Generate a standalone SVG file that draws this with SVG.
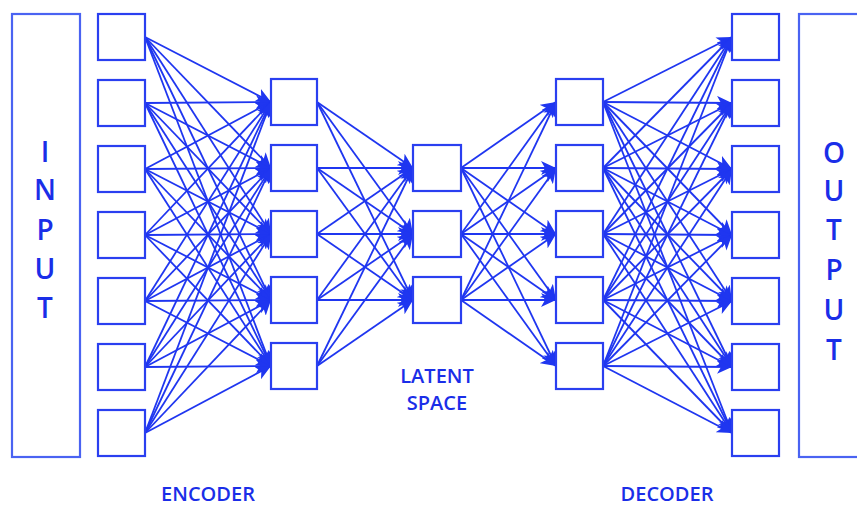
<svg xmlns="http://www.w3.org/2000/svg" width="857" height="507" viewBox="0 0 857 507">
<style>
.box{fill:#fff;stroke:#2a3ff0;stroke-width:2.2}
.big{fill:#fff;stroke:#4a63f2;stroke-width:2.2}
.c line{stroke:#1f36f0;stroke-width:1.8;marker-end:url(#ah)}
.t{font-family:"Open Sans","Liberation Sans",sans-serif;fill:#1a2ee8;text-anchor:middle;font-weight:600}
.v{font-size:28px}
.l{font-size:20px}
</style>
<defs>
<marker id="ah" markerUnits="userSpaceOnUse" markerWidth="16" markerHeight="14" refX="15" refY="7" orient="auto">
<path d="M0,0 L15,7 L0,14 L4,7 z" fill="#1f36f0"/>
</marker>
</defs>
<rect width="857" height="507" fill="#fff"/>
<g id="input"><rect class="big" x="12" y="14" width="68" height="443"/>
<text class="t v" x="45" y="162">I</text><text class="t v" x="45" y="200">N</text><text class="t v" x="45" y="240">P</text><text class="t v" x="45" y="279">U</text><text class="t v" x="45" y="318">T</text></g>
<g id="output"><rect class="big" x="799" y="14" width="70" height="443"/>
<text class="t v" x="834" y="163">O</text><text class="t v" x="834" y="201">U</text><text class="t v" x="834" y="240">T</text><text class="t v" x="834" y="280">P</text><text class="t v" x="834" y="320">U</text><text class="t v" x="834" y="360">T</text></g>
<g class="c" id="connectors">
<line x1="145" y1="37" x2="271" y2="102"/><line x1="145" y1="37" x2="271" y2="168"/><line x1="145" y1="37" x2="271" y2="234"/><line x1="145" y1="37" x2="271" y2="300"/><line x1="145" y1="37" x2="271" y2="366"/>
<line x1="145" y1="103" x2="271" y2="102"/><line x1="145" y1="103" x2="271" y2="168"/><line x1="145" y1="103" x2="271" y2="234"/><line x1="145" y1="103" x2="271" y2="300"/><line x1="145" y1="103" x2="271" y2="366"/>
<line x1="145" y1="169" x2="271" y2="102"/><line x1="145" y1="169" x2="271" y2="168"/><line x1="145" y1="169" x2="271" y2="234"/><line x1="145" y1="169" x2="271" y2="300"/><line x1="145" y1="169" x2="271" y2="366"/>
<line x1="145" y1="235" x2="271" y2="102"/><line x1="145" y1="235" x2="271" y2="168"/><line x1="145" y1="235" x2="271" y2="234"/><line x1="145" y1="235" x2="271" y2="300"/><line x1="145" y1="235" x2="271" y2="366"/>
<line x1="145" y1="301" x2="271" y2="102"/><line x1="145" y1="301" x2="271" y2="168"/><line x1="145" y1="301" x2="271" y2="234"/><line x1="145" y1="301" x2="271" y2="300"/><line x1="145" y1="301" x2="271" y2="366"/>
<line x1="145" y1="367" x2="271" y2="102"/><line x1="145" y1="367" x2="271" y2="168"/><line x1="145" y1="367" x2="271" y2="234"/><line x1="145" y1="367" x2="271" y2="300"/><line x1="145" y1="367" x2="271" y2="366"/>
<line x1="145" y1="433" x2="271" y2="102"/><line x1="145" y1="433" x2="271" y2="168"/><line x1="145" y1="433" x2="271" y2="234"/><line x1="145" y1="433" x2="271" y2="300"/><line x1="145" y1="433" x2="271" y2="366"/>
<line x1="317" y1="102" x2="413" y2="168"/><line x1="317" y1="102" x2="413" y2="234"/><line x1="317" y1="102" x2="413" y2="300"/>
<line x1="317" y1="168" x2="413" y2="168"/><line x1="317" y1="168" x2="413" y2="234"/><line x1="317" y1="168" x2="413" y2="300"/>
<line x1="317" y1="234" x2="413" y2="168"/><line x1="317" y1="234" x2="413" y2="234"/><line x1="317" y1="234" x2="413" y2="300"/>
<line x1="317" y1="300" x2="413" y2="168"/><line x1="317" y1="300" x2="413" y2="234"/><line x1="317" y1="300" x2="413" y2="300"/>
<line x1="317" y1="366" x2="413" y2="168"/><line x1="317" y1="366" x2="413" y2="234"/><line x1="317" y1="366" x2="413" y2="300"/>
<line x1="461" y1="168" x2="556" y2="102"/><line x1="461" y1="168" x2="556" y2="168"/><line x1="461" y1="168" x2="556" y2="234"/><line x1="461" y1="168" x2="556" y2="300"/><line x1="461" y1="168" x2="556" y2="366"/>
<line x1="461" y1="234" x2="556" y2="102"/><line x1="461" y1="234" x2="556" y2="168"/><line x1="461" y1="234" x2="556" y2="234"/><line x1="461" y1="234" x2="556" y2="300"/><line x1="461" y1="234" x2="556" y2="366"/>
<line x1="461" y1="300" x2="556" y2="102"/><line x1="461" y1="300" x2="556" y2="168"/><line x1="461" y1="300" x2="556" y2="234"/><line x1="461" y1="300" x2="556" y2="300"/><line x1="461" y1="300" x2="556" y2="366"/>
<line x1="603" y1="102" x2="732" y2="37"/><line x1="603" y1="102" x2="732" y2="103"/><line x1="603" y1="102" x2="732" y2="169"/><line x1="603" y1="102" x2="732" y2="235"/><line x1="603" y1="102" x2="732" y2="301"/><line x1="603" y1="102" x2="732" y2="367"/><line x1="603" y1="102" x2="732" y2="433"/>
<line x1="603" y1="168" x2="732" y2="37"/><line x1="603" y1="168" x2="732" y2="103"/><line x1="603" y1="168" x2="732" y2="169"/><line x1="603" y1="168" x2="732" y2="235"/><line x1="603" y1="168" x2="732" y2="301"/><line x1="603" y1="168" x2="732" y2="367"/><line x1="603" y1="168" x2="732" y2="433"/>
<line x1="603" y1="234" x2="732" y2="37"/><line x1="603" y1="234" x2="732" y2="103"/><line x1="603" y1="234" x2="732" y2="169"/><line x1="603" y1="234" x2="732" y2="235"/><line x1="603" y1="234" x2="732" y2="301"/><line x1="603" y1="234" x2="732" y2="367"/><line x1="603" y1="234" x2="732" y2="433"/>
<line x1="603" y1="300" x2="732" y2="37"/><line x1="603" y1="300" x2="732" y2="103"/><line x1="603" y1="300" x2="732" y2="169"/><line x1="603" y1="300" x2="732" y2="235"/><line x1="603" y1="300" x2="732" y2="301"/><line x1="603" y1="300" x2="732" y2="367"/><line x1="603" y1="300" x2="732" y2="433"/>
<line x1="603" y1="366" x2="732" y2="37"/><line x1="603" y1="366" x2="732" y2="103"/><line x1="603" y1="366" x2="732" y2="169"/><line x1="603" y1="366" x2="732" y2="235"/><line x1="603" y1="366" x2="732" y2="301"/><line x1="603" y1="366" x2="732" y2="367"/><line x1="603" y1="366" x2="732" y2="433"/>
</g>
<g id="enc1"><rect class="box" x="98" y="14" width="47" height="46"/><rect class="box" x="98" y="80" width="47" height="46"/><rect class="box" x="98" y="146" width="47" height="46"/><rect class="box" x="98" y="212" width="47" height="46"/><rect class="box" x="98" y="278" width="47" height="46"/><rect class="box" x="98" y="344" width="47" height="46"/><rect class="box" x="98" y="410" width="47" height="46"/></g>
<g id="enc2"><rect class="box" x="271" y="79" width="46" height="46"/><rect class="box" x="271" y="145" width="46" height="46"/><rect class="box" x="271" y="211" width="46" height="46"/><rect class="box" x="271" y="277" width="46" height="46"/><rect class="box" x="271" y="343" width="46" height="46"/></g>
<g id="latent"><rect class="box" x="413" y="145" width="48" height="46"/><rect class="box" x="413" y="211" width="48" height="46"/><rect class="box" x="413" y="277" width="48" height="46"/></g>
<g id="dec1"><rect class="box" x="556" y="79" width="47" height="46"/><rect class="box" x="556" y="145" width="47" height="46"/><rect class="box" x="556" y="211" width="47" height="46"/><rect class="box" x="556" y="277" width="47" height="46"/><rect class="box" x="556" y="343" width="47" height="46"/></g>
<g id="dec2"><rect class="box" x="732" y="14" width="47" height="46"/><rect class="box" x="732" y="80" width="47" height="46"/><rect class="box" x="732" y="146" width="47" height="46"/><rect class="box" x="732" y="212" width="47" height="46"/><rect class="box" x="732" y="278" width="47" height="46"/><rect class="box" x="732" y="344" width="47" height="46"/><rect class="box" x="732" y="410" width="47" height="46"/></g>
<g id="labels">
<text class="t l" x="437" y="383">LATENT</text><text class="t l" x="437" y="410">SPACE</text>
<text class="t l" x="208" y="501">ENCODER</text><text class="t l" x="667" y="501">DECODER</text>
</g>
</svg>
